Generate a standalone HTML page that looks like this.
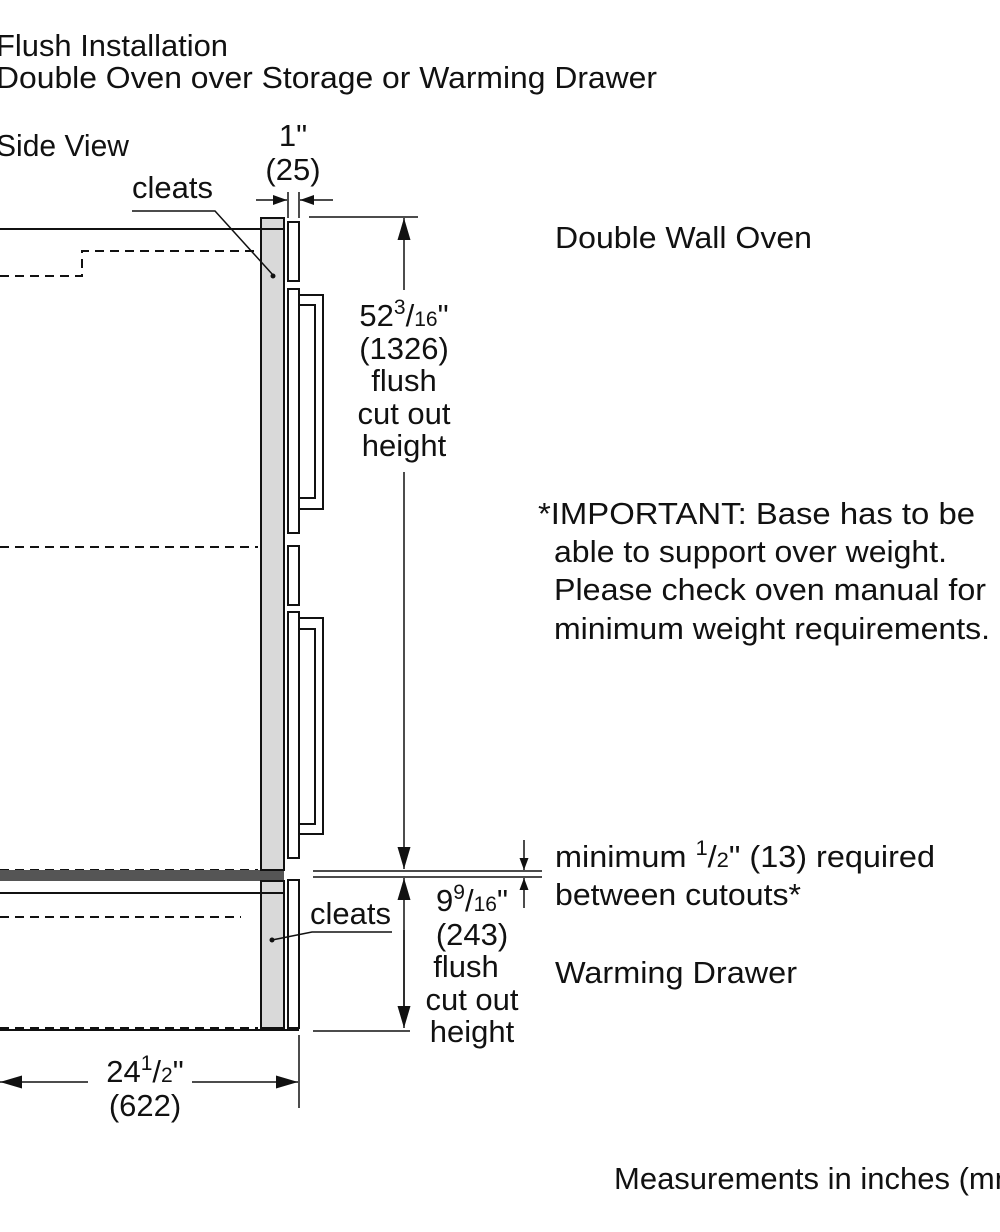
<!DOCTYPE html>
<html><head><meta charset="utf-8"><style>
html,body{margin:0;padding:0;background:#fff;}
svg{display:block;}
text{font-family:"Liberation Sans",Arial,sans-serif;fill:#111;font-size:31px;}
</style></head><body>
<svg width="1000" height="1232" viewBox="0 0 1000 1232" xmlns="http://www.w3.org/2000/svg">
<defs>
<marker id="a" viewBox="0 0 10 10" refX="10" refY="5" markerWidth="14" markerHeight="10" markerUnits="userSpaceOnUse" orient="auto" preserveAspectRatio="none"><path d="M0,0 L10,5 L0,10 z" fill="#111"/></marker>
<marker id="s" viewBox="0 0 10 10" refX="10" refY="5" markerWidth="12" markerHeight="9" markerUnits="userSpaceOnUse" orient="auto" preserveAspectRatio="none"><path d="M0,0 L10,5 L0,10 z" fill="#111"/></marker>
<marker id="b" viewBox="0 0 10 10" refX="10" refY="5" markerWidth="22" markerHeight="13" markerUnits="userSpaceOnUse" orient="auto" preserveAspectRatio="none"><path d="M0,0 L10,5 L0,10 z" fill="#111"/></marker>
</defs>
<!-- titles -->
<text x="-4" y="56" textLength="232" lengthAdjust="spacingAndGlyphs">Flush Installation</text>
<text x="-4" y="88" textLength="661" lengthAdjust="spacingAndGlyphs">Double Oven over Storage or Warming Drawer</text>
<text x="-4" y="156" textLength="133" lengthAdjust="spacingAndGlyphs">Side View</text>

<g stroke="#111" stroke-width="2" fill="none">
<line x1="0" y1="229" x2="284" y2="229"/>
<polyline points="0,276 82,276 82,251 258,251" stroke-dasharray="9,6"/>
<line x1="0" y1="547" x2="258" y2="547" stroke-dasharray="9,6"/>
<line x1="0" y1="870" x2="258" y2="870" stroke-dasharray="9,6"/>
<line x1="0" y1="893" x2="261" y2="893"/>
<line x1="0" y1="917" x2="241" y2="917" stroke-dasharray="9,6"/>
<line x1="0" y1="1028" x2="258" y2="1028" stroke-dasharray="9,6"/>
<line x1="0" y1="1030" x2="299" y2="1030"/>
</g>
<rect x="0" y="870" width="284" height="11" fill="#555"/>
<rect x="261" y="218" width="23" height="652" fill="#d9d9d9" stroke="#111" stroke-width="2"/>
<rect x="261" y="881" width="23" height="147" fill="#d9d9d9" stroke="#111" stroke-width="2"/>
<line x1="261" y1="229" x2="284" y2="229" stroke="#111" stroke-width="2"/>
<line x1="261" y1="893" x2="284" y2="893" stroke="#111" stroke-width="2"/>
<g stroke="#111" stroke-width="2" fill="#fff">
<rect x="288" y="222" width="11" height="59"/>
<rect x="288" y="289" width="11" height="244"/>
<rect x="288" y="546" width="11" height="59"/>
<rect x="288" y="612" width="11" height="246"/>
<rect x="288" y="880" width="11" height="148"/>
<path d="M299,295 H323 V509 H299 M299,305 H315 V498 H299" fill="none"/>
<path d="M299,618 H323 V834 H299 M299,629 H315 V824 H299" fill="none"/>
</g>
<g stroke="#111" stroke-width="1.5" fill="none">
<polyline points="132,211 215,211 273,275"/>
<polyline points="392,932 312,932 272,940"/>
</g>
<circle cx="273" cy="276" r="2.5" fill="#111"/>
<circle cx="272" cy="940" r="2.5" fill="#111"/>
<text x="132" y="198">cleats</text>
<text x="310" y="924">cleats</text>

<g stroke="#111" stroke-width="1.5" fill="none">
<line x1="288" y1="192" x2="288" y2="218"/>
<line x1="299" y1="192" x2="299" y2="218"/>
<line x1="256" y1="200" x2="287" y2="200" marker-end="url(#a)"/>
<line x1="333" y1="200" x2="300" y2="200" marker-end="url(#a)"/>
<line x1="309" y1="217" x2="418" y2="217"/>
<line x1="404" y1="290" x2="404" y2="218" marker-end="url(#b)"/>
<line x1="404" y1="472" x2="404" y2="869" marker-end="url(#b)"/>
<line x1="313" y1="871" x2="542" y2="871"/>
<line x1="313" y1="877" x2="542" y2="877"/>
<line x1="524" y1="840" x2="524" y2="870" marker-end="url(#s)"/>
<line x1="524" y1="908" x2="524" y2="878" marker-end="url(#s)"/>
<line x1="404" y1="1025" x2="404" y2="878" marker-end="url(#b)"/>
<line x1="404" y1="930" x2="404" y2="1028" marker-end="url(#b)"/>
<line x1="313" y1="1031" x2="410" y2="1031"/>
<line x1="299" y1="1035" x2="299" y2="1108"/>
<line x1="88" y1="1082" x2="0" y2="1082" marker-end="url(#b)"/>
<line x1="192" y1="1082" x2="298" y2="1082" marker-end="url(#b)"/>
</g>

<text x="293" y="146" text-anchor="middle">1"</text>
<text x="293" y="180" text-anchor="middle">(25)</text>

<text x="404" y="326" text-anchor="middle">52<tspan font-size="21" dy="-12">3</tspan><tspan dy="12">/</tspan><tspan font-size="21">16</tspan>"</text>
<text x="404" y="359" text-anchor="middle">(1326)</text>
<text x="404" y="391" text-anchor="middle">flush</text>
<text x="404" y="424" text-anchor="middle">cut out</text>
<text x="404" y="456" text-anchor="middle">height</text>

<text x="472" y="911" text-anchor="middle">9<tspan font-size="21" dy="-12">9</tspan><tspan dy="12">/</tspan><tspan font-size="21">16</tspan>"</text>
<text x="472" y="945" text-anchor="middle">(243)</text>
<text x="466" y="977" text-anchor="middle">flush</text>
<text x="472" y="1010" text-anchor="middle">cut out</text>
<text x="472" y="1042" text-anchor="middle">height</text>

<text x="145" y="1082" text-anchor="middle">24<tspan font-size="21" dy="-12">1</tspan><tspan dy="12">/</tspan><tspan font-size="21">2</tspan>"</text>
<text x="145" y="1116" text-anchor="middle">(622)</text>

<text x="555" y="248" textLength="257" lengthAdjust="spacingAndGlyphs">Double Wall Oven</text>
<text x="538" y="524" textLength="437" lengthAdjust="spacingAndGlyphs">*IMPORTANT: Base has to be</text>
<text x="554" y="562" textLength="393" lengthAdjust="spacingAndGlyphs">able to support over weight.</text>
<text x="554" y="600" textLength="432" lengthAdjust="spacingAndGlyphs">Please check oven manual for</text>
<text x="554" y="639" textLength="436" lengthAdjust="spacingAndGlyphs">minimum weight requirements.</text>
<text x="555" y="867" textLength="380" lengthAdjust="spacingAndGlyphs">minimum <tspan font-size="21" dy="-12">1</tspan><tspan dy="12">/</tspan><tspan font-size="21">2</tspan>" (13) required</text>
<text x="555" y="905" textLength="246" lengthAdjust="spacingAndGlyphs">between cutouts*</text>
<text x="555" y="983" textLength="242" lengthAdjust="spacingAndGlyphs">Warming Drawer</text>
<text x="614" y="1189">Measurements in inches (mm)</text>
</svg>
</body></html>
